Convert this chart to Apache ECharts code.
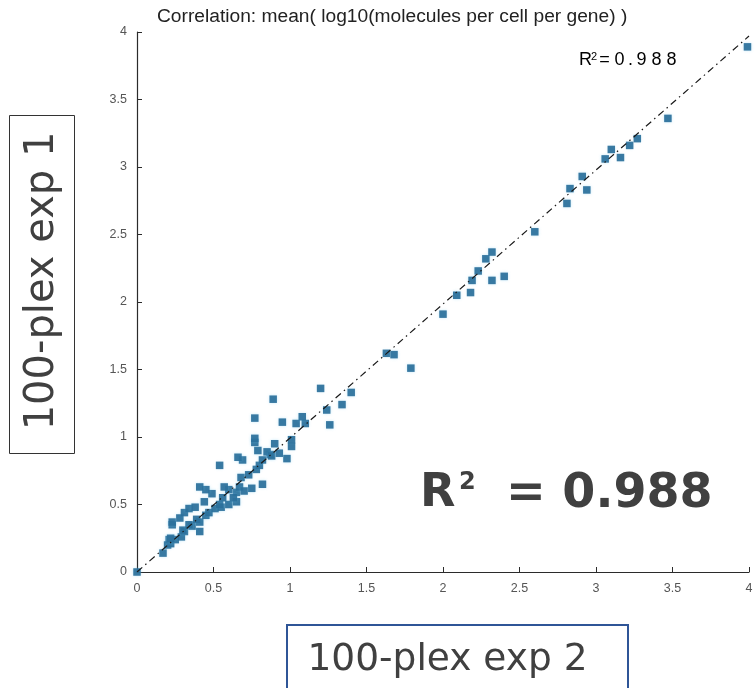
<!DOCTYPE html>
<html>
<head>
<meta charset="utf-8">
<script src="https://cdn.jsdelivr.net/npm/echarts@6/dist/echarts.min.js"></script>
<style>html,body{margin:0;padding:0;background:#fff;}#c{width:756px;height:688px;}</style>
</head>
<body>
<div id="c"></div>
<script>
// 100-plex exp 2 (x) vs 100-plex exp 1 (y)
const exp2 = [0.00,0.17,0.20,0.22,0.21,0.25,0.29,0.22,0.31,0.41,0.30,0.36,0.23,0.34,0.23,0.41,0.28,0.39,0.31,0.45,
  0.47,0.34,0.38,0.51,0.55,0.54,0.60,0.65,0.56,0.49,0.65,0.45,0.60,0.41,0.57,0.67,0.75,0.82,0.68,0.73,
  0.78,0.54,0.80,0.82,0.69,0.66,0.98,0.87,0.85,0.79,0.90,1.01,0.77,0.77,1.01,1.04,1.10,0.95,1.26,1.08,
  0.77,1.24,0.89,1.34,1.20,1.40,1.63,1.68,1.79,2.00,2.09,2.18,2.19,2.32,2.40,2.23,2.28,2.32,2.60,2.81,
  2.83,2.94,2.91,3.06,3.10,3.16,3.22,3.27,3.47,3.99,0.63,0.70,0.44,0.88,0.93];
const exp1 = [0.00,0.14,0.20,0.21,0.24,0.24,0.26,0.25,0.30,0.30,0.31,0.34,0.35,0.35,0.37,0.37,0.40,0.39,0.44,0.42,
  0.44,0.47,0.48,0.47,0.48,0.50,0.50,0.52,0.55,0.58,0.59,0.61,0.61,0.63,0.63,0.63,0.62,0.65,0.70,0.72,
  0.76,0.79,0.79,0.83,0.83,0.85,0.84,0.87,0.89,0.90,0.95,0.93,0.96,0.99,0.98,1.10,1.10,1.11,1.09,1.15,
  1.14,1.20,1.28,1.24,1.36,1.33,1.62,1.61,1.51,1.91,2.05,2.07,2.16,2.16,2.19,2.23,2.32,2.37,2.52,2.73,
  2.84,2.83,2.93,3.06,3.13,3.07,3.16,3.21,3.36,3.89,0.55,0.60,0.52,0.86,0.88];
const fitLine = [[0,0],[4,3.97]];
const axisTicks = ['0','0.5','1','1.5','2','2.5','3','3.5','4'];
const titleText = 'Correlation: mean( log10(molecules per cell per gene) )';
const r2Value = '0.988';
const yName = '100-plex exp 1';
const xName = '100-plex exp 2';

const pts = exp2.map((v,i)=>[v, exp1[i]]);
const chart = echarts.init(document.getElementById('c'), null, {renderer:'canvas'});
const axisCommon = {
  type:'value', min:0, max:4, interval:0.5,
  axisLine:{show:true, lineStyle:{color:'#2b2b2b', width:1.2}},
  axisTick:{show:true, inside:true, length:5, lineStyle:{color:'#2b2b2b'}},
  splitLine:{show:false},
  axisLabel:{color:'#555', fontFamily:'Liberation Sans, Arial', fontSize:12.5, margin:10,
    formatter:(v)=>{const s=axisTicks.find(t=>parseFloat(t)===v); return s===undefined?'':s;}}
};
// small R² label with wide character spacing (rich fragments)
const smallChars = ('=' + r2Value).split('');
const smallRich = {R:{fontSize:18, fontFamily:'Liberation Sans', width:12, align:'left', color:'#333'},
  S:{fontSize:11, fontFamily:'Liberation Sans', width:6, verticalAlign:'top', color:'#333', padding:[0,0,8,0]},
  c:{fontSize:18, fontFamily:'Liberation Sans', width:15, align:'center', color:'#333'},
  p:{fontSize:18, fontFamily:'Liberation Sans', width:7, align:'center', color:'#333'}};
const smallText = '{R|R}{S|2}' + smallChars.map(ch => ch==='.' ? '{p|.}' : '{c|'+ch+'}').join('');

chart.setOption({
  animation:false,
  backgroundColor:'#fff',
  grid:{left:137, top:32, right:7, bottom:116, containLabel:false},
  xAxis:Object.assign({}, axisCommon),
  yAxis:Object.assign({}, axisCommon),
  series:[
    {type:'line', data:fitLine, symbol:'none', silent:true, z:3,
     lineStyle:{color:'#1a1a1a', width:1.2, type:[7,4,1.5,4]}},
    {type:'scatter', data:pts, symbol:'rect', symbolSize:7.5, z:2,
     itemStyle:{color:'#2a6f9a', opacity:0.92, shadowBlur:3, shadowColor:'rgba(110,200,240,0.45)'}}
  ],
  graphic:[
    {type:'text', left:157, top:7, style:{text:titleText, fill:'#222', font:'19.2px "Liberation Sans", Arial'}},
    {type:'text', x:579, y:51, style:{text:smallText, rich:smallRich}},
    {type:'text', x:420, y:494.5, style:{text:'R', fill:'#404040', font:'bold 46px "DejaVu Sans"', textVerticalAlign:'middle'}},
    {type:'text', x:459, y:483, style:{text:'2', fill:'#404040', font:'bold 24px "DejaVu Sans"', textVerticalAlign:'middle'}},
    {type:'text', x:506, y:494.5, style:{text:'= ' + r2Value, fill:'#404040', font:'bold 47.5px "DejaVu Sans"', textVerticalAlign:'middle'}},
    {type:'rect', shape:{x:9.5, y:115.5, width:65, height:338}, style:{fill:'none', stroke:'#333', lineWidth:1}},
    {type:'text', x:43, y:281, rotation:Math.PI/2, style:{text:yName, fill:'#404040', font:'40px "DejaVu Sans"', textAlign:'center', textVerticalAlign:'middle'}},
    {type:'rect', shape:{x:287, y:625, width:341, height:80}, style:{fill:'none', stroke:'#2f5597', lineWidth:2}},
    {type:'text', x:447.5, y:660, style:{text:xName, fill:'#404040', font:'37.5px "DejaVu Sans"', textAlign:'center', textVerticalAlign:'middle'}}
  ]
});
</script>
</body>
</html>
